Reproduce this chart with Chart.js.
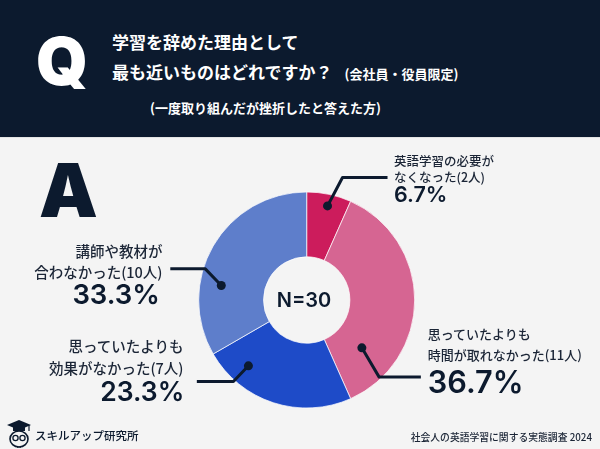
<!DOCTYPE html>
<html lang="ja">
<head>
<meta charset="utf-8">
<script src="https://cdn.jsdelivr.net/npm/chart.js@4/dist/chart.umd.min.js"></script>
<style>
  html, body { margin: 0; padding: 0; }
  body { width: 600px; height: 449px; position: relative; overflow: hidden; background: #f4f4f4; font-family: "Noto Sans CJK JP", "Noto Sans", sans-serif; color: #1b2536; }
  #header { position: absolute; left: 0; top: 0; width: 600px; height: 137px; background: #0c1a2e; border-bottom: 1px solid #e4e4e4; }
  .abs { position: absolute; white-space: nowrap; }
  .big { font-family: Inter, "Noto Sans", sans-serif; font-weight: 900; line-height: 1; }
  .hd { color: #fff; font-weight: 700; }
  .pct { font-family: Inter, "Noto Sans", sans-serif; font-weight: 600; line-height: 1; color: #0c1a2e; }
  .lbl { font-weight: 500; color: #1b2536; }
  #chartWrap { position: absolute; left: 0; top: 0; width: 600px; height: 449px; }
</style>
</head>
<body>
<div id="header"></div>
<div class="abs big" style="left:36px; top:28px; font-size:66px; color:#fff;">Q</div>
<div class="abs hd" style="left:112px; top:31px; font-size:17px; line-height:22px;">学習を辞めた理由として</div>
<div class="abs hd" style="left:112px; top:60.7px; font-size:17px; line-height:22px;">最も近いものはどれですか？<span style="font-size:13px; margin-left:12px;">(会社員・役員限定)</span></div>
<div class="abs hd" style="left:150px; top:98px; font-size:13px; line-height:20px;">(一度取り組んだが挫折したと答えた方)</div>
<div class="abs big" style="left:39px; top:153px; font-size:74px; color:#0c1a2e;">A</div>

<div id="chartWrap"><canvas id="pieChart" width="600" height="449"></canvas></div>
<div id="labels"></div>
<div class="abs pct" style="left:254px; top:290px; width:100px; text-align:center; font-size:20px;">N=30</div>

<svg class="abs" style="left:6px; top:419px;" width="26" height="30" viewBox="0 0 26 30">
  <path d="M13 1 L25 6 L13 11 L1 6 Z" fill="#0c1a2e"/>
  <rect x="7" y="7" width="12" height="5" fill="#0c1a2e"/>
  <line x1="23" y1="6" x2="23" y2="12" stroke="#0c1a2e" stroke-width="1.2"/>
  <ellipse cx="13" cy="20" rx="9" ry="8" fill="none" stroke="#0c1a2e" stroke-width="1.6"/>
  <circle cx="9.5" cy="19" r="2.6" fill="none" stroke="#0c1a2e" stroke-width="1.3"/>
  <circle cx="16.5" cy="19" r="2.6" fill="none" stroke="#0c1a2e" stroke-width="1.3"/>
  <path d="M11 27 L15 29 L15 27 L11 29 Z" fill="#0c1a2e"/>
</svg>
<div class="abs" style="left:35px; top:427px; font-size:11.5px; line-height:16px; font-weight:500; color:#0c1a2e;">スキルアップ研究所</div>
<div class="abs" style="right:8px; top:430px; font-size:9.8px; line-height:14px; font-weight:500; color:#1b2536;">社会人の英語学習に関する実態調査 2024</div>

<script>
// データ
const categories = ['英語学習の必要がなくなった', '思っていたよりも時間が取れなかった', '思っていたよりも効果がなかった', '講師や教材が合わなかった'];
const counts = [2, 11, 7, 10];
const percents = ['6.7%', '36.7%', '23.3%', '33.3%'];
const labelLines = [
    ['英語学習の必要が', 'なくなった(2人)'],
    ['思っていたよりも', '時間が取れなかった(11人)'],
    ['思っていたよりも', '効果がなかった(7人)'],
    ['講師や教材が', '合わなかった(10人)']
];
const total = 30;

const colors = ['#cc1c5c', '#d66592', '#1e4bc8', '#5e7ecb'];

// ラベルの配置 (位置・サイズ)
const labelLayout = [
    { side: 'left', x: 394, center: 160.7, lh: 16, size: 12.5, pctSize: 21.5, pctTop: 183.7, pctX: 394 },
    { side: 'left', x: 427.7, center: 333, lh: 21, size: 13, pctSize: 30.7, pctTop: 366.8, pctX: 427.7 },
    { side: 'right', x: 183.5, center: 345.7, lh: 22, size: 14.5, pctSize: 26.5, pctTop: 378.1, pctX: 184.3 },
    { side: 'right', x: 162.5, center: 250, lh: 21, size: 14.5, pctSize: 27.5, pctTop: 281.3, pctX: 160 }
];

// 引き出し線 (扇形の中の位置 + 折れ点)
const leaderLayout = [
    { frac: 0.52, rr: 0.82, elbow: [15, -28.4], end: 45 },
    { frac: 0.81, rr: 0.46, elbow: [17.3, 29.3], end: 41.7 },
    { frac: 0.78, rr: 0.69, elbow: [-15, 15.7], end: -36.6 },
    { frac: 0.33, rr: 0.67, elbow: [-16, -16.7], end: -35 }
];

// ラベル生成
const labelsBox = document.getElementById('labels');
labelLines.forEach((lines, i) => {
    const L = labelLayout[i];
    const div = document.createElement('div');
    div.className = 'abs lbl';
    div.style.fontSize = L.size + 'px';
    div.style.lineHeight = L.lh + 'px';
    div.style.top = (L.center - L.lh / 2) + 'px';
    div.style.textAlign = L.side;
    if (L.side === 'left') div.style.left = L.x + 'px';
    else div.style.right = (600 - L.x) + 'px';
    div.innerHTML = lines.join('<br>');
    labelsBox.appendChild(div);

    const p = document.createElement('div');
    p.className = 'abs pct';
    p.style.fontSize = L.pctSize + 'px';
    p.style.top = L.pctTop + 'px';
    if (L.side === 'left') p.style.left = L.pctX + 'px';
    else p.style.right = (600 - L.pctX) + 'px';
    p.textContent = percents[i];
    labelsBox.appendChild(p);
});

// 引き出し線プラグイン
const leaderPlugin = {
    id: 'leaders',
    afterDatasetsDraw(chart) {
        const ctx = chart.ctx;
        const arcs = chart.getDatasetMeta(0).data;
        ctx.save();
        ctx.strokeStyle = '#0c1a2e';
        ctx.fillStyle = '#0c1a2e';
        ctx.lineWidth = 3;
        ctx.lineJoin = 'round';
        arcs.forEach((arc, i) => {
            const c = leaderLayout[i];
            const a = arc.getProps(['x', 'y', 'startAngle', 'endAngle', 'innerRadius', 'outerRadius'], true);
            const ang = a.startAngle + c.frac * (a.endAngle - a.startAngle);
            const r = a.innerRadius + c.rr * (a.outerRadius - a.innerRadius);
            const px = a.x + Math.cos(ang) * r;
            const py = a.y + Math.sin(ang) * r;
            const ex = px + c.elbow[0];
            const ey = py + c.elbow[1];
            ctx.beginPath();
            ctx.moveTo(px, py);
            ctx.lineTo(ex, ey);
            ctx.lineTo(ex + c.end, ey);
            ctx.stroke();
            ctx.beginPath();
            ctx.arc(px, py, 4.5, 0, Math.PI * 2);
            ctx.fill();
        });
        ctx.restore();
    }
};

new Chart(document.getElementById('pieChart'), {
    type: 'doughnut',
    data: {
        labels: categories,
        datasets: [{
            data: counts,
            backgroundColor: colors,
            borderColor: 'rgba(255,255,255,0.7)',
            borderWidth: 1
        }]
    },
    options: {
        responsive: false,
        animation: false,
        cutout: '40%',
        layout: {
            padding: { left: 198.2, right: 184.8, top: 191.5, bottom: 40.5 }
        },
        plugins: {
            legend: { display: false },
            tooltip: { enabled: false }
        }
    },
    plugins: [leaderPlugin]
});
</script>
</body>
</html>
